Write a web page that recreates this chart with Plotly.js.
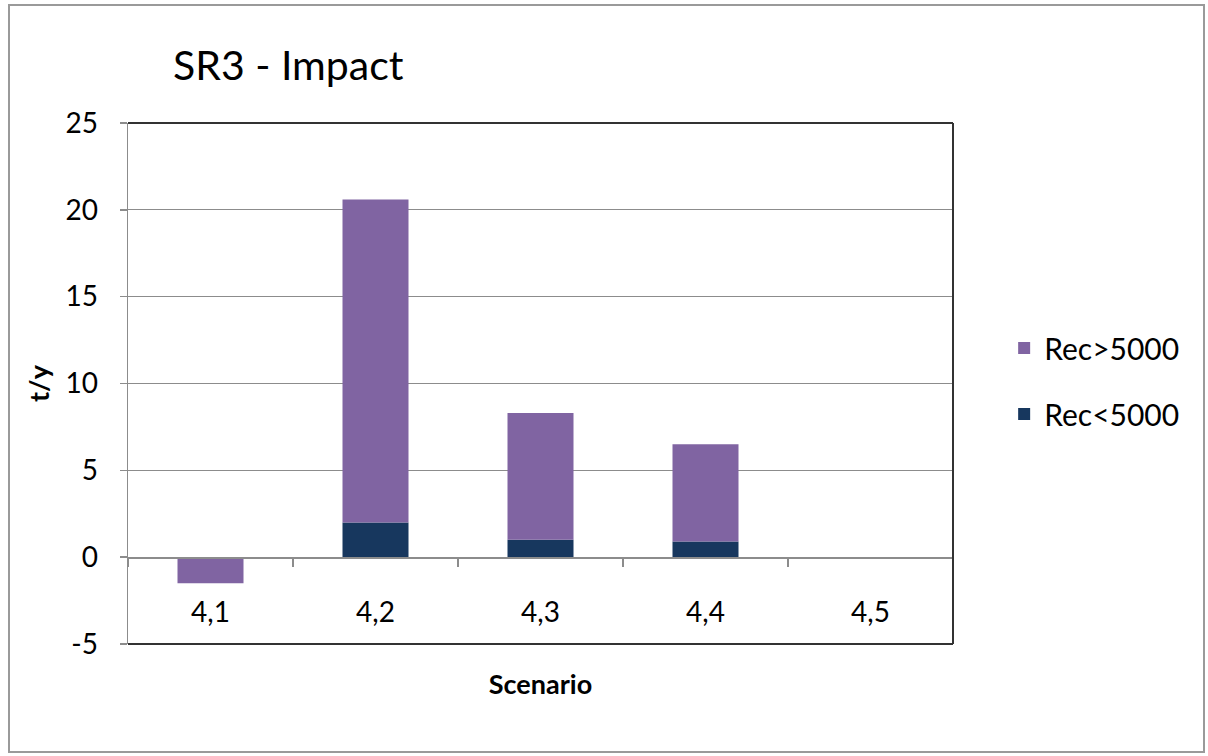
<!DOCTYPE html>
<html>
<head>
<meta charset="utf-8">
<script src="https://cdn.plot.ly/plotly-3.0.1.min.js"></script>
<style>
  html, body { margin: 0; padding: 0; background: #fff; }
  #wrap { position: relative; width: 1208px; height: 756px; }
  #chart { width: 1208px; height: 756px; }
  #frame { position: absolute; left: 8px; top: 4px; width: 1193px; height: 745px;
           border: 2px solid #9a9a9a; pointer-events: none; }
</style>
</head>
<body>
<div id="wrap">
  <div id="chart"></div>
  <div id="frame"></div>
</div>
<script>
// ---- data ----
const categories = ['4,1', '4,2', '4,3', '4,4', '4,5'];
const recBelow5000 = [0, 2.0, 1.0, 0.9, 0];     // Rec<5000 (dark blue)
const recAbove5000 = [-1.5, 18.6, 7.3, 5.6, 0]; // Rec>5000 (purple)
const yTickValues = [-5, 0, 5, 10, 15, 20, 25];

const FONT = 'Lato, "Open Sans", sans-serif';
const yMin = -5, yMax = 25;

const traces = [
  {
    type: 'bar', name: 'Rec<5000', x: categories, y: recBelow5000,
    marker: { color: '#17375E', line: { width: 0 } },
    legendgroup: 'b', legendrank: 2, hoverinfo: 'x+y+name'
  },
  {
    type: 'bar', name: 'Rec>5000', x: categories, y: recAbove5000,
    marker: { color: '#8064A2', line: { width: 0 } },
    legendgroup: 'a', legendrank: 1, hoverinfo: 'x+y+name'
  }
];

const layout = {
  width: 1208, height: 756,
  margin: { l: 128, r: 255, t: 123, b: 112, pad: 0 },
  paper_bgcolor: '#ffffff', plot_bgcolor: '#ffffff',
  font: { family: FONT, color: '#000000' },
  barmode: 'relative',
  bargap: 0.6,
  title: {
    text: 'SR3 - Impact',
    font: { family: FONT, size: 41, color: '#000000' },
    xref: 'container', yref: 'container',
    x: 173 / 1208, xanchor: 'left',
    y: 1 - 66 / 756, yanchor: 'middle'
  },
  xaxis: {
    type: 'category',
    range: [-0.5, categories.length - 0.5],
    anchor: 'free',
    position: (0 - yMin) / (yMax - yMin),
    showline: true, linecolor: '#8c8c8c', linewidth: 1.5,
    ticks: 'outside', tickson: 'boundaries', ticklen: 8, tickcolor: '#8c8c8c', tickwidth: 1.5,
    ticklabelstandoff: 30,
    showgrid: false, zeroline: false,
    tickfont: { family: FONT, size: 28, color: '#000000' },
    title: { text: '<b>Scenario</b>', font: { family: FONT, size: 27, color: '#000000' }, standoff: 48 },
    fixedrange: true
  },
  yaxis: {
    range: [yMin, yMax],
    tickmode: 'array', tickvals: yTickValues, ticktext: yTickValues.map(String),
    showline: true, linecolor: '#8c8c8c', linewidth: 1.5,
    ticks: 'outside', ticklen: 7, tickcolor: '#8c8c8c', tickwidth: 1.5,
    ticklabelstandoff: 16,
    showgrid: true, gridcolor: '#8c8c8c', gridwidth: 1.2,
    zeroline: false,
    tickfont: { family: FONT, size: 28, color: '#000000' },
    title: { text: '<b>t/y</b>', font: { family: FONT, size: 27, color: '#000000' }, standoff: 8 },
    fixedrange: true
  },
  showlegend: true,
  legend: {
    x: 1.062, xanchor: 'left',
    y: 0.505, yanchor: 'middle',
    traceorder: 'grouped',
    tracegroupgap: 24,
    font: { family: FONT, size: 30, color: '#000000' },
    bgcolor: 'rgba(0,0,0,0)',
    itemwidth: 30
  },
  shapes: [
    { type: 'line', xref: 'paper', yref: 'paper', x0: 0, x1: 1, y0: 1, y1: 1, line: { color: '#333333', width: 2 } },
    { type: 'line', xref: 'paper', yref: 'paper', x0: 1, x1: 1, y0: 0, y1: 1, line: { color: '#333333', width: 2 } },
    { type: 'line', xref: 'paper', yref: 'paper', x0: 0, x1: 1, y0: 0, y1: 0, line: { color: '#333333', width: 2 } }
  ]
};

Plotly.newPlot('chart', traces, layout, { displayModeBar: false, staticPlot: true });
</script>
</body>
</html>
